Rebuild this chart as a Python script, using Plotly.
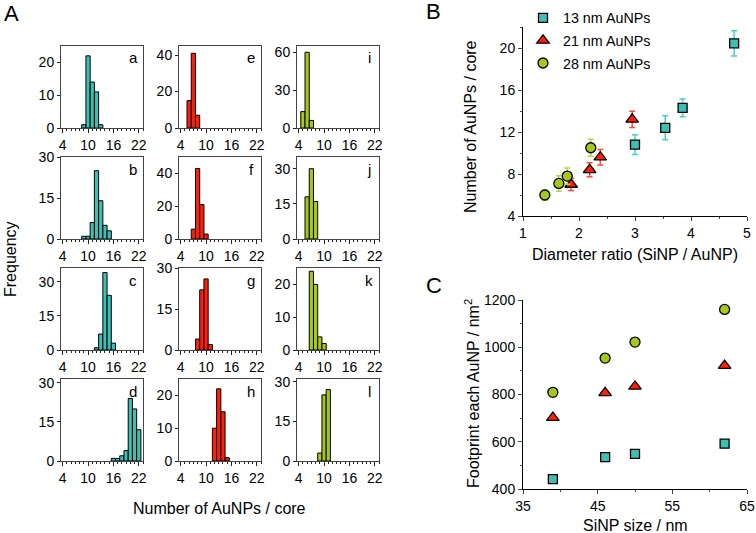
import plotly.graph_objects as go

W, H = 756, 533

# ---------------- Panel A: histograms (bin centre -> frequency) ----------------
a_bins = [9, 10, 11, 12, 13]
a_counts = [1, 22, 14, 11, 1]
b_bins = [9, 10, 11, 12, 13, 14, 15]
b_counts = [1, 1, 6, 25, 14, 5, 3]
c_bins = [12, 13, 14, 15, 16]
c_counts = [1, 7, 34, 24, 3]
d_bins = [16, 17, 18, 19, 20, 21, 22]
d_counts = [1, 1, 2, 4, 24, 20, 12]
e_bins = [6, 7, 8]
e_counts = [15, 41, 7]
f_bins = [7, 8, 9, 10]
f_counts = [6, 43, 21, 3]
g_bins = [8, 9, 10, 11]
g_counts = [4, 22, 26, 2]
h_bins = [12, 13, 14, 15]
h_counts = [10, 22, 15, 1]
i_bins = [5, 6, 7]
i_counts = [13, 60, 6]
j_bins = [6, 7, 8]
j_counts = [18, 30, 16]
k_bins = [7, 8, 9, 10]
k_counts = [24, 20, 4, 2]
l_bins = [9, 10, 11]
l_counts = [3, 25, 27]

hist_letters = ["a", "b", "c", "d", "e", "f", "g", "h", "i", "j", "k", "l"]
hist_bins = [a_bins, b_bins, c_bins, d_bins, e_bins, f_bins, g_bins, h_bins,
             i_bins, j_bins, k_bins, l_bins]
hist_counts = [a_counts, b_counts, c_counts, d_counts, e_counts, f_counts,
               g_counts, h_counts, i_counts, j_counts, k_counts, l_counts]
hist_ymax = [25, 30, 36, 31.5, 45, 50, 30, 25, 65, 35, 25, 31]
hist_ydtick = [10, 15, 15, 15, 20, 20, 15, 10, 30, 15, 10, 15]
hist_xticks = [4, 10, 16, 22]

# ---------------- Panel B ----------------
series_names = ["13 nm AuNPs", "21 nm AuNPs", "28 nm AuNPs"]
ratio_13 = [3.0, 3.54, 3.85, 4.77]
number_13 = [10.8, 12.4, 14.3, 20.45]
err_13 = [0.95, 1.14, 0.85, 1.2]
ratio_21 = [1.86, 2.19, 2.38, 2.95]
number_21 = [7.0, 8.4, 9.6, 13.2]
err_21 = [0.57, 0.66, 0.74, 0.78]
ratio_28 = [1.39, 1.64, 1.79, 2.21]
number_28 = [6.0, 7.1, 7.8, 10.5]
err_28 = [0.5, 0.74, 0.78, 0.8]

# ---------------- Panel C ----------------
sinp_size = [39, 46, 50, 62]
footprint_13 = [442, 535, 549, 592]
footprint_21 = [702, 807, 834, 922]
footprint_28 = [809, 954, 1022, 1160]

TEAL = "#3ebfb4"
RED = "#ff1e0a"
OLIVE = "#a6c81c"
TEAL_E = "#45d2c2"
RED_E = "#ff4a3a"
OLIVE_E = "#b8d83a"
col_colors = [TEAL, RED, OLIVE]

FONT = "Arial, 'Liberation Sans', sans-serif"
TICK = 14
TITLE = 16


def dom_x(x0, x1):
    return [x0 / W, x1 / W]


def dom_y(top, bottom):
    return [1 - bottom / H, 1 - top / H]


fig = go.Figure()
layout = dict(
    width=W, height=H,
    margin=dict(l=0, r=0, t=0, b=0, autoexpand=False),
    paper_bgcolor="white", plot_bgcolor="white",
    font=dict(family=FONT, color="black", size=TICK),
    showlegend=True,
    barmode="overlay",
)
annotations = []

col_left = [61, 179, 297]
row_top = [46, 157, 268, 379]
PW, PH = 82, 82

for idx in range(12):
    col = idx // 4
    row = idx % 4
    n = idx + 1
    xa = "x" if n == 1 else f"x{n}"
    ya = "y" if n == 1 else f"y{n}"
    xkey = "xaxis" if n == 1 else f"xaxis{n}"
    ykey = "yaxis" if n == 1 else f"yaxis{n}"
    x0 = col_left[col]
    y0 = row_top[row]
    fig.add_trace(go.Bar(
        x=hist_bins[idx], y=hist_counts[idx], width=1,
        marker=dict(color=col_colors[col], line=dict(color="black", width=1)),
        xaxis=xa, yaxis=ya, showlegend=False,
    ))
    layout[xkey] = dict(
        domain=dom_x(x0, x0 + PW), anchor=ya, range=[3.6, 23.0], automargin=False,
        tickmode="array", tickvals=hist_xticks, ticks="outside", ticklen=4,
        minor=dict(ticks="outside", ticklen=2, tickmode="linear", tick0=4, dtick=1,
                   tickcolor="#222"),
        showline=True, mirror=True, linecolor="#444", linewidth=1,
        showgrid=False, zeroline=False, tickfont=dict(size=TICK),
        tickcolor="#222",
    )
    layout[ykey] = dict(
        domain=dom_y(y0, y0 + PH), anchor=xa, range=[0, hist_ymax[idx]], automargin=False,
        tickmode="linear", tick0=0, dtick=hist_ydtick[idx], ticks="outside", ticklen=3,
        showline=True, mirror=True, linecolor="#444", linewidth=1,
        showgrid=False, zeroline=False, tickfont=dict(size=TICK),
        tickcolor="#222",
    )
    annotations.append(dict(
        x=(x0 + PW - 10) / W, y=1 - (y0 + 12) / H, xref="paper", yref="paper",
        text=hist_letters[idx], showarrow=False, font=dict(size=15),
        xanchor="center", yanchor="middle",
    ))

# ---------------- Panel B traces ----------------
b_specs = [
    (ratio_13, number_13, err_13, TEAL, TEAL_E, "square", 9),
    (ratio_21, number_21, err_21, RED, RED_E, "triangle-up", 11),
    (ratio_28, number_28, err_28, OLIVE, OLIVE_E, "circle", 10),
]
for k, (xv, yv, ev, c, ce, sym, sz) in enumerate(b_specs):
    fig.add_trace(go.Scatter(
        x=xv, y=yv, mode="markers", name=series_names[k], legendgroup=f"g{k}",
        marker=dict(symbol=sym, size=sz, color=c, line=dict(color="black", width=1.3)),
        error_y=dict(type="data", array=ev, visible=True, color=ce, thickness=1.5, width=3),
        xaxis="x13", yaxis="y13",
    ))

layout["xaxis13"] = dict(
    domain=dom_x(523, 747), anchor="y13", range=[1, 5], automargin=False,
    tickmode="linear", tick0=1, dtick=1, ticks="outside", ticklen=4,
    minor=dict(ticks="outside", ticklen=2, tickmode="linear", tick0=1, dtick=0.5),
    showline=True, linecolor="black", linewidth=1, showgrid=False, zeroline=False,
    tickfont=dict(size=TICK),
)
layout["yaxis13"] = dict(
    domain=dom_y(27, 216), anchor="x13", range=[4, 22], automargin=False,
    tickmode="linear", tick0=4, dtick=4, ticks="outside", ticklen=4,
    minor=dict(ticks="outside", ticklen=2, tickmode="linear", tick0=4, dtick=2),
    showline=True, linecolor="black", linewidth=1, showgrid=False, zeroline=False,
    tickfont=dict(size=TICK),
)

# ---------------- Panel C traces ----------------
c_specs = [
    (footprint_13, TEAL, "square", 9),
    (footprint_21, RED, "triangle-up", 11),
    (footprint_28, OLIVE, "circle", 10),
]
for k, (yv, c, sym, sz) in enumerate(c_specs):
    fig.add_trace(go.Scatter(
        x=sinp_size, y=yv, mode="markers", showlegend=False,
        marker=dict(symbol=sym, size=sz, color=c, line=dict(color="black", width=1.3)),
        xaxis="x14", yaxis="y14",
    ))

layout["xaxis14"] = dict(
    domain=dom_x(523, 747), anchor="y14", range=[35, 65], automargin=False,
    tickmode="linear", tick0=35, dtick=10, ticks="outside", ticklen=4,
    minor=dict(ticks="outside", ticklen=2, tickmode="linear", tick0=35, dtick=5),
    showline=True, linecolor="black", linewidth=1, showgrid=False, zeroline=False,
    tickfont=dict(size=TICK),
)
layout["yaxis14"] = dict(
    domain=dom_y(300, 489), anchor="x14", range=[400, 1200], automargin=False,
    tickmode="linear", tick0=400, dtick=200, ticks="outside", ticklen=4,
    minor=dict(ticks="outside", ticklen=2, tickmode="linear", tick0=400, dtick=100),
    showline=True, linecolor="black", linewidth=1, showgrid=False, zeroline=False,
    tickfont=dict(size=TICK),
)

layout["legend"] = dict(
    x=523 / W, y=1 - 2 / H, xanchor="left", yanchor="top",
    font=dict(size=14.3), bgcolor="rgba(0,0,0,0)", tracegroupgap=1,
)


def txt(x, y, s, size=TITLE, angle=0):
    annotations.append(dict(
        x=x / W, y=1 - y / H, xref="paper", yref="paper", text=s, showarrow=False,
        font=dict(size=size), textangle=angle, xanchor="center", yanchor="middle",
    ))


txt(11, 13, "A", size=22)
txt(433, 12, "B", size=22)
txt(434, 285, "C", size=22)
txt(11, 259, "Frequency", angle=-90)
txt(219, 508, "Number of AuNPs / core")
txt(470, 127, "Number of AuNPs / core", angle=-90)
txt(635, 255, "Diameter ratio (SiNP / AuNP)")
txt(472, 394, "Footprint each AuNP / nm<sup>2</sup>", angle=-90)
txt(635, 525, "SiNP size / nm")

layout["annotations"] = annotations
fig.update_layout(**layout)
fig.write_html("out.html", config={"displayModeBar": False},
               post_script="document.body.style.margin='0px';")
